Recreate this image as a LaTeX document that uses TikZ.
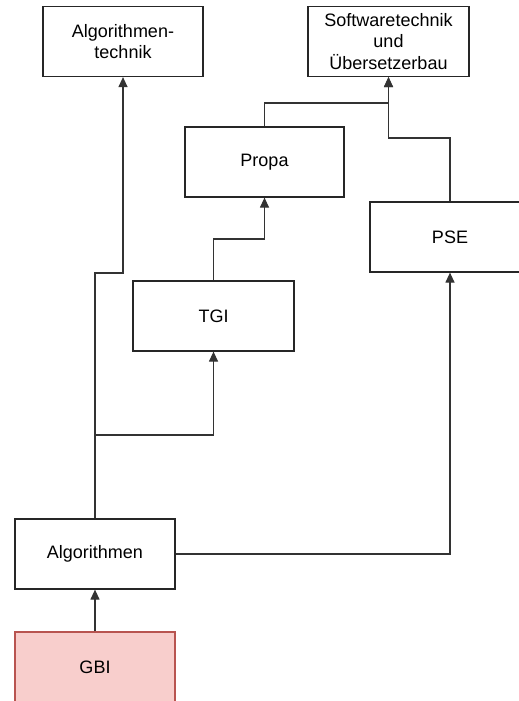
\documentclass[tikz,border=0pt]{standalone}
\usepackage{fontspec}
\setmainfont{Liberation Sans}
\usetikzlibrary{arrows.meta}
\definecolor{gbifill}{HTML}{F8CECC}
\definecolor{gbiline}{HTML}{B85450}
\begin{document}
\begin{tikzpicture}[x=1pt,y=-1pt,
  course/.style={draw=black!85,line width=1.2pt,fill=white,minimum width=160pt,
    minimum height=70pt,inner sep=0pt,align=center,
    font=\fontsize{18}{21.5}\selectfont},
  arr/.style={draw=black!80,line width=1.2pt,-{Triangle[length=10pt,width=9pt]}}]
\useasboundingbox (0,0) rectangle (519,701);
\begin{scope}
\clip (0,0) rectangle (519,701);
% course boxes
\node[course] (algt) at (123,41.5) {Algorithmen-\\technik};
\node[course,minimum width=161pt] (swt) at (388.5,41.5) {Softwaretechnik\\und\\Übersetzerbau};
\node[course,minimum width=159pt] (propa) at (264.5,162) {Propa};
\node[course] (pse) at (450,237) {PSE};
\node[course,minimum width=161pt] (tgi) at (213.5,316) {TGI};
\node[course] (alg) at (95,554) {Algorithmen};
\node[course,fill=gbifill,draw=gbiline] (gbi) at (95,667) {GBI};
% bend points
\coordinate (j1) at (95,273);
\coordinate (j2) at (95,435);
\coordinate (j3) at (213.5,239);
\coordinate (j4) at (264.5,103);
\coordinate (j5) at (450,138);
% prerequisites
\draw[arr] (gbi.north) -- (alg.south);
\draw[arr] (alg.north) -- (j1) -| (algt.south);
\draw[arr] (j2) -| (tgi.south);
\draw[arr] (alg.east) -| (pse.south);
\draw[arr] (tgi.north) -- (j3) -| (propa.south);
\draw[arr] (propa.north) -- (j4) -| (swt.south);
\draw[arr] (pse.north) -- (j5) -| (swt.south);
\end{scope}
\end{tikzpicture}
\end{document}
